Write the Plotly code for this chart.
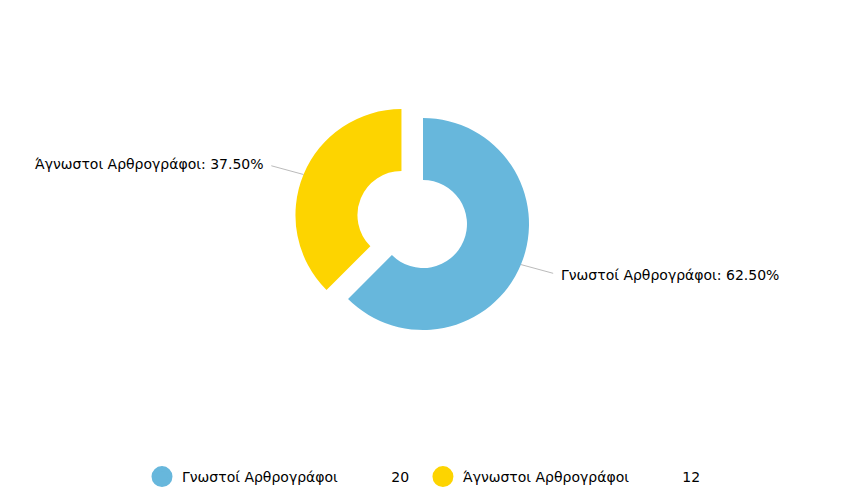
import math
import plotly.graph_objects as go

# ---- data ----
labels = ["Γνωστοί Αρθρογράφοι", "Άγνωστοι Αρθρογράφοι"]
values = [20, 12]
colors = ["#67b7dc", "#fdd400"]
pulls = [0, 0.22]

# ---- layout constants (pixels, page coords; the page body adds an 8px margin) ----
OFF = 8
W, H = 850 - OFF, 504 - OFF
CX, CY, R = 423 - OFF, 224 - OFF, 106
HOLE = 0.415
FONT = "DejaVu Sans"
FS = 14

maxpull = max(pulls)
half = R * (1 + maxpull)
domain_x = [(CX - half) / W, (CX + half) / W]
domain_y = [(H - CY - half) / H, (H - CY + half) / H]

fig = go.Figure()
fig.add_trace(go.Pie(
    labels=labels, values=values,
    marker=dict(colors=colors, line=dict(width=0)),
    hole=HOLE, pull=pulls, sort=False, direction="clockwise", rotation=0,
    textinfo="none", hoverinfo="label+value+percent",
    showlegend=False,
    domain=dict(x=domain_x, y=domain_y),
))

# legend entries (circle markers with value)
NB = "\u00a0"
pad = NB * 12
for i, (lab, val, col) in enumerate(zip(labels, values, colors)):
    tail = NB * 2 if i == 0 else ""
    fig.add_trace(go.Scatter(
        x=[None], y=[None], mode="markers", name=f"{lab}{pad}{val}{tail}",
        marker=dict(symbol="circle", size=16, color=col, line=dict(color=col, width=5)),
        hoverinfo="skip",
    ))

# outside labels with leader lines, positioned from slice angles
total = sum(values)
annotations = []
cum = 0
for lab, val, p in zip(labels, values, pulls):
    mid = (cum + val / 2) / total
    cum += val
    theta = 2 * math.pi * mid
    dx, dy = math.sin(theta), -math.cos(theta)
    dist = (1 + p) * R
    px, py = CX + dist * dx, CY + dist * dy
    side = 1 if dx > 0 else -1
    annotations.append(dict(
        x=px / W, y=1 - py / H, xref="paper", yref="paper",
        text=f"{lab}: {100 * val / total:.2f}%",
        showarrow=True, arrowhead=0, arrowwidth=1, arrowcolor="#bbbbbb",
        ax=38 * side, ay=27 * dy,
        xanchor="left" if side > 0 else "right", yanchor="middle",
        startstandoff=6,
        font=dict(family=FONT, size=FS, color="#000000"),
    ))

fig.update_layout(
    width=W, height=H,
    margin=dict(l=0, r=0, t=0, b=0),
    paper_bgcolor="white", plot_bgcolor="white",
    xaxis=dict(visible=False), yaxis=dict(visible=False),
    annotations=annotations,
    showlegend=True,
    legend=dict(orientation="h", x=(142 - OFF) / W, xanchor="left",
                y=1 - (477 - OFF) / H, yanchor="middle",
                font=dict(family=FONT, size=FS, color="#000000"),
                bgcolor="rgba(0,0,0,0)"),
    font=dict(family=FONT),
)

fig.write_html("out.html")
